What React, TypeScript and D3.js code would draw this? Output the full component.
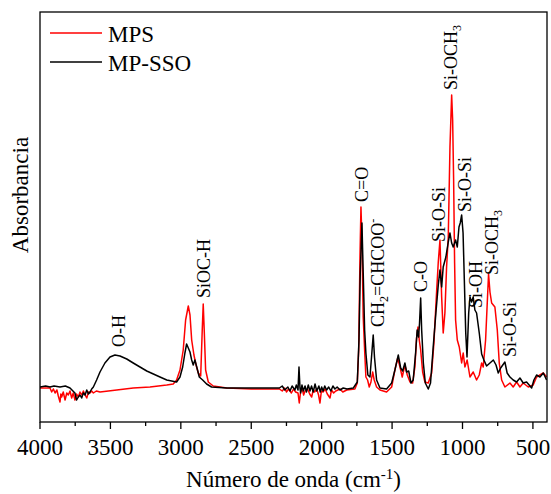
import React from "react";
import * as d3 from "d3";

const W = 551;
const H = 494;
const margin = { left: 40, right: 4, top: 12, bottom: 72 };

const xDomain: [number, number] = [4000, 400];
const yDomain: [number, number] = [0, 4.1];
const majorTicks = [4000, 3500, 3000, 2500, 2000, 1500, 1000, 500];
const minorTicks = [3750, 3250, 2750, 2250, 1750, 1250, 750];

const seriesNames = ["MPS", "MP-SSO"];
const seriesColors = ["#ff0000", "#000000"];

// [wavenumber (cm-1), absorbance (a.u.)]
const mpsSpectrum: [number, number][] = [
  [4000, 0.34], [3929, 0.34], [3917, 0.3], [3905, 0.33], [3893, 0.29], [3880, 0.32], [3870, 0.26],
  [3858, 0.2], [3852, 0.28], [3846, 0.25], [3835, 0.3], [3822, 0.22], [3810, 0.29], [3799, 0.27],
  [3787, 0.31], [3775, 0.24], [3764, 0.29], [3752, 0.22], [3740, 0.28], [3728, 0.25], [3716, 0.3],
  [3704, 0.27], [3692, 0.31], [3680, 0.27], [3668, 0.24], [3656, 0.3], [3645, 0.29], [3633, 0.31],
  [3621, 0.29], [3600, 0.31], [3574, 0.3], [3455, 0.32], [3338, 0.34], [3219, 0.35], [3100, 0.37],
  [3054, 0.38], [3030, 0.42], [3006, 0.52], [2983, 0.72], [2966, 1.02], [2947, 1.16], [2935, 1.07],
  [2923, 0.82], [2907, 0.67], [2892, 0.57], [2876, 0.49], [2859, 0.46], [2848, 0.92], [2841, 1.18],
  [2834, 0.92], [2824, 0.52], [2805, 0.4], [2770, 0.36], [2674, 0.34], [2500, 0.33], [2300, 0.33],
  [2280, 0.31], [2262, 0.34], [2250, 0.3], [2235, 0.33], [2215, 0.29], [2200, 0.33], [2185, 0.3],
  [2168, 0.29], [2159, 0.19], [2150, 0.3], [2138, 0.33], [2128, 0.27], [2118, 0.31], [2100, 0.33],
  [2085, 0.28], [2071, 0.25], [2060, 0.32], [2050, 0.3], [2035, 0.33], [2022, 0.27], [2012, 0.19],
  [2002, 0.31], [1990, 0.3], [1975, 0.33], [1960, 0.28], [1941, 0.24], [1930, 0.32], [1915, 0.29],
  [1900, 0.31], [1870, 0.33], [1850, 0.3], [1822, 0.32], [1764, 0.33], [1747, 0.39],
  [1737, 0.72], [1728, 1.65], [1721, 2.15], [1714, 1.82], [1705, 1.05], [1695, 0.72], [1686, 0.45],
  [1674, 0.42], [1662, 0.35], [1650, 0.4], [1638, 0.5], [1627, 0.42], [1610, 0.35], [1586, 0.32],
  [1539, 0.3], [1503, 0.35], [1480, 0.52], [1460, 0.64], [1444, 0.55], [1428, 0.45], [1409, 0.57],
  [1392, 0.47], [1373, 0.4], [1354, 0.39], [1338, 0.55], [1326, 0.84], [1316, 0.95], [1307, 0.82],
  [1297, 0.72], [1283, 0.5], [1267, 0.4], [1243, 0.39], [1219, 0.49], [1203, 0.79], [1184, 1.3],
  [1172, 1.6], [1160, 1.82], [1148, 1.25], [1137, 0.89], [1125, 1.09], [1113, 1.55], [1101, 1.85],
  [1089, 2.75], [1077, 3.27], [1070, 3.02], [1063, 2.42], [1056, 1.59], [1049, 1.02], [1037, 0.82],
  [1023, 0.75], [1006, 0.59], [995, 0.69], [983, 0.55], [967, 0.62], [947, 0.45], [924, 0.5],
  [900, 0.42], [881, 0.47], [864, 0.59], [853, 0.55], [836, 0.82], [815, 1.48], [805, 1.3],
  [793, 1.19], [770, 1.15], [753, 0.92], [739, 0.59], [722, 0.42], [699, 0.35], [663, 0.39],
  [640, 0.35], [616, 0.4], [592, 0.35], [569, 0.39], [533, 0.35], [498, 0.37], [474, 0.45],
  [450, 0.47], [426, 0.49], [403, 0.45],
];

const mpSsoSpectrum: [number, number][] = [
  [4000, 0.35], [3960, 0.36], [3929, 0.35], [3900, 0.36], [3858, 0.35], [3820, 0.36], [3787, 0.34],
  [3752, 0.29], [3740, 0.22], [3728, 0.25], [3716, 0.27], [3704, 0.24], [3692, 0.29], [3680, 0.27],
  [3668, 0.32], [3656, 0.28], [3645, 0.3], [3633, 0.33], [3621, 0.35], [3598, 0.42], [3574, 0.5],
  [3539, 0.59], [3503, 0.65], [3468, 0.67], [3432, 0.66], [3384, 0.63], [3338, 0.59], [3290, 0.55],
  [3242, 0.51], [3195, 0.48], [3148, 0.45], [3100, 0.42], [3065, 0.41], [3030, 0.4], [3006, 0.45],
  [2987, 0.55], [2971, 0.69], [2959, 0.78], [2947, 0.74], [2935, 0.7], [2923, 0.62], [2912, 0.57],
  [2900, 0.62], [2887, 0.55], [2869, 0.45], [2845, 0.42], [2817, 0.38], [2782, 0.35], [2674, 0.34],
  [2343, 0.34], [2300, 0.34], [2280, 0.36], [2262, 0.32], [2240, 0.35], [2225, 0.31], [2210, 0.36],
  [2190, 0.32], [2180, 0.37], [2168, 0.32], [2161, 0.55], [2154, 0.34], [2149, 0.29], [2140, 0.37],
  [2130, 0.31], [2118, 0.36], [2108, 0.3], [2095, 0.37], [2083, 0.31], [2072, 0.36], [2060, 0.3],
  [2047, 0.38], [2035, 0.31], [2020, 0.36], [2010, 0.3], [2000, 0.35], [1990, 0.31], [1978, 0.36],
  [1965, 0.32], [1950, 0.35], [1935, 0.31], [1920, 0.36], [1906, 0.33], [1890, 0.35], [1870, 0.32],
  [1847, 0.34], [1820, 0.33], [1775, 0.34], [1747, 0.4], [1735, 0.82], [1726, 1.49], [1714, 1.99],
  [1705, 1.49], [1695, 0.92], [1686, 0.69], [1672, 0.47], [1657, 0.45], [1646, 0.65], [1634, 0.87],
  [1625, 0.65], [1610, 0.42], [1586, 0.34], [1539, 0.33], [1503, 0.39], [1480, 0.52], [1456, 0.67],
  [1439, 0.54], [1425, 0.51], [1409, 0.59], [1397, 0.5], [1382, 0.51], [1366, 0.39], [1350, 0.42],
  [1333, 0.69], [1322, 0.92], [1312, 0.85], [1305, 0.99], [1297, 1.24], [1290, 0.92], [1278, 0.59],
  [1264, 0.39], [1243, 0.33], [1227, 0.39], [1208, 0.75], [1189, 1.09], [1172, 1.37], [1160, 1.52],
  [1148, 1.35], [1137, 1.55], [1118, 1.65], [1101, 1.8], [1089, 1.89], [1077, 1.79], [1066, 1.75],
  [1049, 1.82], [1037, 1.75], [1025, 1.95], [1016, 1.99], [1006, 2.07], [996, 1.89], [987, 1.42],
  [977, 0.89], [968, 0.65], [956, 1.09], [947, 1.25], [935, 1.2], [924, 1.25], [912, 1.12],
  [900, 1.09], [881, 0.89], [864, 0.68], [848, 0.62], [829, 0.56], [805, 0.59], [781, 0.62],
  [762, 0.57], [746, 0.49], [729, 0.54], [699, 0.6], [683, 0.49], [663, 0.45], [640, 0.42],
  [616, 0.4], [592, 0.44], [569, 0.39], [545, 0.4], [509, 0.34], [493, 0.42], [474, 0.47],
  [450, 0.45], [426, 0.49], [403, 0.42],
];

// band assignments: [text parts, wavenumber, absorbance at label start]
type Part = { t: string; s?: "sub" | "sup" };
const bandLabels: { parts: Part[]; wn: number; a: number }[] = [
  { parts: [{ t: "O-H" }], wn: 3439, a: 0.75 },
  { parts: [{ t: "SiOC-H" }], wn: 2836, a: 1.24 },
  { parts: [{ t: "C=O" }], wn: 1717, a: 2.2 },
  { parts: [{ t: "CH" }, { t: "2", s: "sub" }, { t: "=CHCOO" }, { t: "-", s: "sup" }], wn: 1600, a: 0.95 },
  { parts: [{ t: "C-O" }], wn: 1295, a: 1.3 },
  { parts: [{ t: "Si-O-Si" }], wn: 1167, a: 1.8 },
  { parts: [{ t: "Si-OCH" }, { t: "3", s: "sub" }], wn: 1082, a: 3.32 },
  { parts: [{ t: "Si-O-Si" }], wn: 983, a: 2.1 },
  { parts: [{ t: "Si-OH" }], wn: 904, a: 1.14 },
  { parts: [{ t: "Si-OCH" }, { t: "3", s: "sub" }], wn: 791, a: 1.47 },
  { parts: [{ t: "Si-O-Si" }], wn: 663, a: 0.65 },
];

const FONT = "'Liberation Serif', 'Times New Roman', serif";

function renderParts(parts: Part[], small: number) {
  let shift = 0;
  return parts.map((p, i) => {
    let target = 0;
    if (p.s === "sub") target = 4;
    if (p.s === "sup") target = -7;
    const dy = target - shift;
    shift = target;
    return (
      <tspan key={i} dy={dy} fontSize={p.s ? small : undefined}>
        {p.t}
      </tspan>
    );
  });
}

export default function App() {
  const x = d3.scaleLinear().domain(xDomain).range([margin.left, W - margin.right]);
  const y = d3.scaleLinear().domain(yDomain).range([H - margin.bottom, margin.top]);
  const line = d3
    .line<[number, number]>()
    .x((d) => x(d[0]))
    .y((d) => y(d[1]));
  const x0 = margin.left;
  const x1 = W - margin.right;
  const y0 = margin.top;
  const y1 = H - margin.bottom;
  const series = [mpsSpectrum, mpSsoSpectrum];

  return (
    <svg
      width={W}
      height={H}
      style={{ position: "absolute", left: 0, top: 0, background: "#fff" }}
      fontFamily={FONT}
    >
      <defs>
        <clipPath id="plot">
          <rect x={x0} y={y0} width={x1 - x0} height={y1 - y0} />
        </clipPath>
      </defs>
      <g clipPath="url(#plot)">
        {series.map((s, i) => (
          <path
            key={i}
            d={line(s) || ""}
            fill="none"
            stroke={seriesColors[i]}
            strokeWidth={1.5}
            strokeLinejoin="round"
          />
        ))}
      </g>
      <rect x={x0} y={y0} width={x1 - x0} height={y1 - y0} fill="none" stroke="#000" strokeWidth={1.3} />
      {majorTicks.map((t) => (
        <g key={t}>
          <line x1={x(t)} x2={x(t)} y1={y1} y2={y1 + 7} stroke="#000" strokeWidth={1.3} />
          <text x={x(t)} y={y1 + 33} textAnchor="middle" fontSize={23}>
            {t}
          </text>
        </g>
      ))}
      {minorTicks.map((t) => (
        <line key={t} x1={x(t)} x2={x(t)} y1={y1} y2={y1 + 4} stroke="#000" strokeWidth={1.3} />
      ))}
      <text x={(x0 + x1) / 2} y={H - 7} textAnchor="middle" fontSize={23}>
        Número de onda (cm
        <tspan dy={-8} fontSize={15}>-1</tspan>
        <tspan dy={8}>)</tspan>
      </text>
      <text transform={`translate(28, 195) rotate(-90)`} textAnchor="middle" fontSize={23}>
        Absorbancia
      </text>
      {seriesNames.map((n, i) => (
        <g key={n}>
          <line x1={50} x2={102} y1={33 + i * 29} y2={33 + i * 29} stroke={seriesColors[i]} strokeWidth={1.5} />
          <text x={108} y={42 + i * 29} fontSize={23}>
            {n}
          </text>
        </g>
      ))}
      {bandLabels.map((b, i) => (
        <text
          key={i}
          transform={`translate(${x(b.wn) + 6}, ${y(b.a)}) rotate(-90)`}
          fontSize={18}
        >
          {renderParts(b.parts, 12)}
        </text>
      ))}
    </svg>
  );
}
